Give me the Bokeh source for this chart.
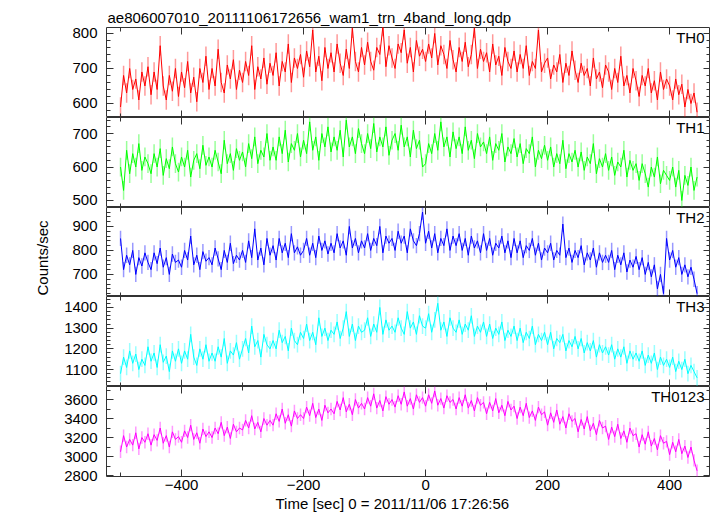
import numpy as np
from bokeh.plotting import figure
from bokeh.models import (Range1d, LinearAxis, SingleIntervalTicker, Label, Title,
                          CustomLabelingPolicy)
from bokeh.layouts import column
from bokeh.embed import file_html
from bokeh.resources import INLINE

# ---------------- data ----------------
title_text = "ae806007010_20111106172656_wam1_trn_4band_long.qdp"
x_label = "Time [sec] 0 = 2011/11/06 17:26:56"
y_label = "Counts/sec"
panel_names = ["TH0", "TH1", "TH2", "TH3", "TH0123"]
t_start = -500
t_step = 5

th0 = [590, 680, 630, 700, 640, 670, 610, 690, 650, 705,
       625, 690, 640, 765, 650, 610, 680, 635, 700, 620,
       690, 645, 720, 630, 675, 605, 700, 660, 735, 640,
       700, 650, 755, 660, 630, 710, 670, 725, 640, 695,
       660, 720, 680, 765, 640, 705, 670, 730, 655, 715,
       680, 745, 650, 720, 690, 770, 660, 730, 700, 740,
       675, 750, 705, 810, 690, 735, 665, 760, 700, 745,
       690, 770, 715, 680, 755, 700, 815, 720, 690, 760,
       710, 775, 720, 695, 760, 740, 820, 705, 765, 730,
       700, 770, 745, 810, 715, 760, 690, 780, 735, 755,
       720, 770, 730, 800, 710, 765, 740, 700, 780, 725,
       690, 760, 720, 775, 705, 740, 815, 700, 755, 720,
       745, 690, 770, 710, 735, 680, 760, 720, 700, 750,
       690, 740, 700, 765, 680, 720, 700, 810, 690, 715,
       730, 670, 710, 690, 740, 660, 715, 680, 750, 695,
       660, 715, 680, 700, 650, 730, 670, 690, 645, 710,
       690, 640, 700, 660, 735, 650, 680, 630, 700, 665,
       620, 680, 650, 700, 630, 665, 610, 690, 640, 670,
       650, 610, 670, 625, 655, 590, 640, 600, 630, 575]

th1 = [600, 530, 650, 580, 640, 600, 670, 590, 630, 610,
       580, 640, 600, 655, 575, 625, 595, 660, 610, 585,
       630, 600, 650, 570, 620, 640, 595, 665, 605, 630,
       600, 650, 615, 580, 680, 610, 640, 590, 655, 620,
       645, 600, 670, 625, 690, 610, 650, 630, 700, 620,
       660, 620, 690, 640, 710, 615, 670, 650, 700, 630,
       680, 640, 735, 650, 690, 620, 700, 660, 720, 645,
       690, 650, 710, 630, 740, 660, 690, 640, 715, 670,
       640, 700, 655, 730, 645, 690, 660, 720, 635, 680,
       700, 650, 725, 660, 690, 630, 710, 655, 680, 600,
       610, 670, 640, 700, 650, 735, 660, 690, 630, 705,
       655, 690, 640, 720, 650, 680, 625, 700, 660, 675,
       640, 690, 620, 670, 650, 700, 615, 660, 640, 685,
       630, 670, 610, 655, 640, 690, 600, 650, 625, 665,
       620, 660, 600, 640, 610, 680, 595, 640, 615, 650,
       600, 645, 590, 630, 610, 670, 580, 625, 600, 640,
       590, 630, 575, 615, 600, 650, 570, 620, 590, 610,
       560, 610, 580, 540, 600, 570, 630, 550, 590, 575,
       560, 600, 540, 590, 500, 575, 545, 600, 530, 570]

th2 = [850, 720, 780, 740, 800, 700, 770, 735, 790, 750,
       720, 790, 745, 810, 730, 770, 700, 785, 750, 760,
       730, 800, 760, 860, 740, 780, 720, 795, 755, 770,
       740, 810, 765, 720, 800, 750, 830, 745, 780, 760,
       800, 750, 840, 770, 890, 760, 810, 740, 850, 780,
       820, 760, 850, 790, 830, 770, 870, 790, 815, 780,
       800, 850, 780, 830, 770, 860, 800, 840, 785, 830,
       790, 870, 810, 840, 780, 900, 810, 850, 790, 840,
       810, 870, 800, 850, 820, 900, 790, 860, 830, 850,
       800, 880, 830, 860, 790, 890, 840, 820, 870, 960,
       830, 880, 810, 870, 790, 850, 820, 890, 800, 860,
       820, 870, 800, 850, 780, 860, 810, 840, 790, 870,
       800, 850, 780, 830, 810, 860, 790, 840, 770, 850,
       790, 840, 770, 820, 800, 850, 780, 830, 760, 810,
       790, 830, 760, 800, 780, 910, 770, 810, 750, 800,
       770, 820, 740, 790, 760, 810, 730, 790, 750, 780,
       750, 800, 720, 780, 740, 790, 710, 760, 730, 775,
       720, 770, 700, 750, 690, 740, 640, 700, 620, 850,
       760, 800, 730, 770, 700, 740, 690, 730, 680, 620]

th3 = [1080, 1160, 1110, 1190, 1130, 1175, 1100, 1150, 1120, 1210,
       1140, 1180, 1110, 1220, 1135, 1165, 1090, 1190, 1140, 1200,
       1130, 1190, 1150, 1270, 1160, 1120, 1200, 1150, 1220, 1140,
       1180, 1140, 1210, 1160, 1250, 1130, 1190, 1170, 1230, 1150,
       1200, 1250, 1180, 1310, 1210, 1240, 1160, 1270, 1220, 1200,
       1240, 1200, 1290, 1230, 1260, 1190, 1300, 1240, 1220, 1280,
       1250, 1320, 1240, 1280, 1220, 1350, 1260, 1300, 1240, 1290,
       1270, 1330, 1250, 1300, 1380, 1260, 1320, 1240, 1310, 1280,
       1290, 1350, 1260, 1320, 1280, 1400, 1270, 1340, 1290, 1310,
       1280, 1350, 1300, 1270, 1380, 1300, 1330, 1270, 1360, 1310,
       1300, 1370, 1280, 1340, 1420, 1290, 1330, 1260, 1350, 1300,
       1280, 1340, 1270, 1320, 1290, 1360, 1260, 1310, 1280, 1330,
       1260, 1320, 1250, 1300, 1270, 1330, 1240, 1290, 1260, 1310,
       1240, 1300, 1230, 1280, 1250, 1310, 1220, 1270, 1240, 1280,
       1220, 1280, 1200, 1250, 1230, 1270, 1190, 1240, 1210, 1260,
       1200, 1250, 1180, 1230, 1190, 1240, 1160, 1220, 1180, 1210,
       1170, 1220, 1150, 1200, 1160, 1210, 1130, 1190, 1150, 1180,
       1140, 1190, 1120, 1170, 1130, 1180, 1100, 1160, 1120, 1150,
       1110, 1160, 1090, 1140, 1100, 1150, 1080, 1120, 1090, 1060]

th0123 = [3050, 3220, 3100, 3180, 3120, 3250, 3080, 3200, 3150, 3240,
          3120, 3230, 3170, 3300, 3140, 3220, 3100, 3260, 3180, 3210,
          3150, 3270, 3200, 3330, 3180, 3250, 3140, 3290, 3210, 3260,
          3200, 3300, 3240, 3360, 3220, 3310, 3190, 3340, 3260, 3300,
          3280, 3380, 3300, 3430, 3290, 3360, 3260, 3400, 3330, 3380,
          3330, 3450, 3370, 3500, 3350, 3440, 3320, 3480, 3400, 3440,
          3400, 3520, 3430, 3560, 3410, 3500, 3380, 3540, 3460, 3500,
          3450, 3580, 3490, 3620, 3470, 3550, 3440, 3600, 3510, 3560,
          3500, 3620, 3530, 3660, 3510, 3590, 3480, 3630, 3550, 3600,
          3520, 3640, 3550, 3680, 3530, 3610, 3500, 3650, 3570, 3620,
          3530, 3650, 3560, 3690, 3540, 3610, 3510, 3640, 3570, 3600,
          3500, 3620, 3530, 3650, 3510, 3590, 3480, 3620, 3540, 3570,
          3450, 3570, 3480, 3610, 3460, 3540, 3430, 3580, 3490, 3530,
          3400, 3520, 3430, 3560, 3410, 3480, 3380, 3520, 3440, 3470,
          3330, 3460, 3360, 3490, 3340, 3420, 3300, 3450, 3370, 3400,
          3260, 3390, 3290, 3420, 3270, 3350, 3230, 3380, 3300, 3320,
          3180, 3310, 3210, 3340, 3190, 3270, 3150, 3300, 3220, 3240,
          3100, 3230, 3130, 3260, 3110, 3190, 3070, 3220, 3140, 3160,
          3020, 3150, 3050, 3180, 3030, 3110, 2990, 3100, 2960, 2850]

series = [th0, th1, th2, th3, th0123]
errors = [28, 28, 32, 38, 65]

# ---------------- styling / layout ----------------
colors = ["#ff0000", "#00ff00", "#0000ff", "#00ffff", "#ff00ff"]
x_range_vals = (-523, 467)
y_ranges = [(560, 817), (479, 748), (608, 979), (1018, 1453), (2790, 3737)]
y_tick_int = [100, 100, 100, 100, 200]
y_minor = [5, 5, 5, 5, 2]
frame_heights = [90, 90, 89, 90, 90]
FONT = "Liberation Sans"
FS = "15px"
FRAME_LEFT = 106
FRAME_W = 604
LINEC = "#333333"

hide_policy_code = """
for (const i of indices) { indices.unset(i) }
return indices
"""


def style_axis(ax, show_labels):
    ax.axis_line_color = None
    ax.major_tick_line_color = LINEC
    ax.minor_tick_line_color = LINEC
    ax.major_tick_in = 7
    ax.major_tick_out = 0
    ax.minor_tick_in = 4
    ax.minor_tick_out = 0
    ax.major_label_text_font = FONT
    ax.major_label_text_color = "black"
    if show_labels:
        ax.major_label_text_font_size = FS
    else:
        ax.major_label_text_font_size = "0px"
        ax.major_label_standoff = 0
        ax.major_label_policy = CustomLabelingPolicy(code=hide_policy_code)


figs = []
n = len(series)
for i in range(n):
    fh = frame_heights[i]
    top_border = 27 if i == 0 else 0
    bottom_border = 39 if i == n - 1 else 0
    ylo, yhi = y_ranges[i]
    p = figure(frame_width=FRAME_W, frame_height=fh,
               x_range=Range1d(*x_range_vals), y_range=Range1d(ylo, yhi),
               output_backend="svg", toolbar_location=None,
               x_axis_location=None, y_axis_location=None,
               min_border_left=FRAME_LEFT, min_border_right=0,
               min_border_top=top_border, min_border_bottom=bottom_border)
    p.grid.visible = False
    p.outline_line_color = LINEC
    p.outline_line_width = 1
    p.background_fill_color = "white"
    p.border_fill_color = "white"

    xt = SingleIntervalTicker(interval=200, num_minor_ticks=2)
    yt = SingleIntervalTicker(interval=y_tick_int[i], num_minor_ticks=y_minor[i])

    left = LinearAxis(ticker=yt)
    style_axis(left, True)
    left.major_label_standoff = 9
    p.add_layout(left, "left")

    right = LinearAxis(ticker=yt)
    style_axis(right, False)
    p.add_layout(right, "right")

    below = LinearAxis(ticker=xt)
    style_axis(below, i == n - 1)
    if i == n - 1:
        below.major_label_standoff = 3
    p.add_layout(below, "below")

    above = LinearAxis(ticker=xt)
    style_axis(above, False)
    p.add_layout(above, "above")

    vals = np.array(series[i], dtype=float)
    t = t_start + t_step * np.arange(len(vals))
    e = errors[i]
    p.segment(x0=t, y0=vals - e, x1=t, y1=vals + e, line_color=colors[i],
              line_alpha=0.4, line_width=1.5)
    p.line(t, vals, line_color=colors[i], line_width=1)

    p.add_layout(Label(x=x_range_vals[1], y=yhi, x_offset=-6, y_offset=-1,
                       text=panel_names[i], text_align="right", text_baseline="top",
                       text_font=FONT, text_font_size=FS, text_color="black"))

    if i == 0:
        p.title.text = title_text
        p.title.align = "left"
        p.title.text_font = FONT
        p.title.text_font_size = FS
        p.title.text_font_style = "normal"
        p.title.text_color = "black"
        p.title.standoff = 3
        p.title.offset = 1
    if i == 2:
        p.add_layout(Title(text=y_label, align="left", offset=1, standoff=38,
                           text_font=FONT, text_font_size=FS, text_font_style="normal",
                           text_color="black"), "left")
    if i == n - 1:
        p.add_layout(Title(text=x_label, align="left", offset=169, standoff=0,
                           text_font=FONT, text_font_size=FS, text_font_style="normal",
                           text_color="black"), "below")
    figs.append(p)

layout = column(*figs, spacing=0)
open("out.html", "w").write(file_html(layout, INLINE))
